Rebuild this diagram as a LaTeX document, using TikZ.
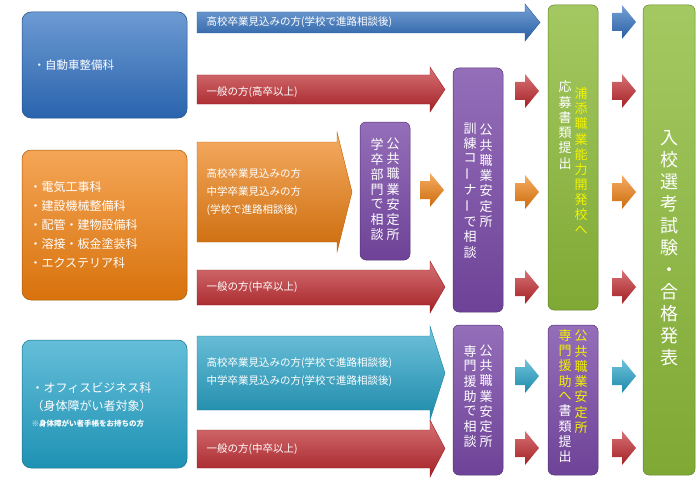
\documentclass[tikz,border=0pt]{standalone}
\usepackage{fontspec}
\setmainfont{Noto Sans CJK JP}
\definecolor{cblue}{HTML}{2E6FC0}
\definecolor{cred}{HTML}{C0262B}
\definecolor{corange}{HTML}{F07F0E}
\definecolor{ccyan}{HTML}{22A2C8}
\definecolor{cpurple}{HTML}{7A4AA8}
\definecolor{cgreen}{HTML}{8DBB3A}
\definecolor{cyel}{HTML}{F2F200}
\newcommand{\vc}[1]{\begin{tabular}{@{}c@{}}#1\end{tabular}}
\newcommand{\vbar}{\rotatebox{90}{ー}}
\newcommand{\arr}[8]{% x1 x2 bodytop bodybot headtop headbot color name
 \path[top color=#7!65!white,bottom color=#7!85!black,draw=#7!80!black,line width=0.4pt]
  (#1,#3)--(#2-15,#3)--(#2-15,#5)--(#2,#5/2+#6/2)--(#2-15,#6)--(#2-15,#4)--(#1,#4)--cycle;
 \coordinate (#8) at (#1,#3/2+#4/2);}
\newcommand{\sarr}[4]{% x y color name
 \path[top color=#3!65!white,bottom color=#3!85!black]
  (#1,#2-9)--(#1+10,#2-9)--(#1+10,#2-17)--(#1+24,#2)--(#1+10,#2+17)--(#1+10,#2+9)--(#1,#2+9)--cycle;
 \coordinate (#4) at (#1,#2);}
\tikzset{
 box/.style={rounded corners=9pt,draw=#1!70!black,top color=#1!70!white,bottom color=#1!90!black,line width=0.5pt},
 vbox/.style={rounded corners=6pt,draw=#1!70!black,top color=#1!80!white,bottom color=#1!90!black,line width=0.5pt},
 lbl/.style={text=white,font=\fontsize{10.5}{13}\selectfont,anchor=west,align=left},
 vt/.style={text=white,font=\fontsize{13}{14.5}\selectfont,inner sep=0pt},
}
\begin{document}
\begin{tikzpicture}[x=1pt,y=-1pt]
\useasboundingbox (0,0) rectangle (700,484);
% left boxes
\path[box=cblue] (22,12) rectangle (187,118);
\node[lbl,font=\fontsize{11.5}{14}\selectfont] (b1) at (30,65) {・自動車整備科};
\path[box=corange] (22,150) rectangle (187,300);
\node[lbl,font=\fontsize{12}{19}\selectfont] (b2) at (26,225) {・電気工事科\\・建設機械整備科\\・配管・建物設備科\\・溶接・板金塗装科\\・エクステリア科};
\path[box=ccyan] (22,340) rectangle (187,468);
\node[lbl,font=\fontsize{12}{18}\selectfont] (b3) at (28,397) {・オフィスビジネス科\\（身体障がい者対象）};
\node[lbl,font=\fontsize{7.5}{9}\selectfont\bfseries] (b3n) at (28,424) {※身体障がい者手帳をお持ちの方};
% big arrows
\arr{197}{540}{12}{33}{4}{41}{cblue}{a1}
\node[lbl] at (203,22) {高校卒業見込みの方(学校で進路相談後)};
\arr{197}{445}{75}{104}{67}{112}{cred}{a2}
\node[lbl] at (203,92) {一般の方(高卒以上)};
\arr{197}{352}{142}{242}{132}{252}{corange}{a3}
\node[lbl,font=\fontsize{10.5}{18}\selectfont] at (203,192) {高校卒業見込みの方\\中学卒業見込みの方\\(学校で進路相談後)};
\arr{197}{445}{270}{305}{261}{313}{cred}{a4}
\node[lbl] at (203,287) {一般の方(中卒以上)};
\arr{197}{445}{336}{410}{326}{420}{ccyan}{a5}
\node[lbl,font=\fontsize{10.5}{18}\selectfont] at (203,372) {高校卒業見込みの方(学校で進路相談後)\\中学卒業見込みの方(学校で進路相談後)};
\arr{197}{445}{430}{468}{420}{477}{cred}{a6}
\node[lbl] at (203,449) {一般の方(中卒以上)};
% small arrows
\sarr{420}{190}{corange}{s0}
\sarr{515}{91}{cred}{s1}\sarr{612}{91}{cred}{s2}
\sarr{515}{192}{corange}{s3}\sarr{612}{192}{corange}{s4}
\sarr{515}{287}{cred}{s5}\sarr{612}{287}{cred}{s6}
\sarr{515}{376}{ccyan}{s7}\sarr{612}{376}{ccyan}{s8}
\sarr{515}{448}{cred}{s9}\sarr{612}{448}{cred}{s10}
\sarr{612}{22}{cblue}{s11}
% purple / green boxes
\path[vbox=cpurple] (360,122) rectangle (410,260);
\node[vt] (p1) at (385,191) {\vc{学\\卒\\部\\門\\で\\相\\談}\hspace{3pt}\vc{公\\共\\職\\業\\安\\定\\所}};
\path[vbox=cpurple] (453,68) rectangle (503,312);
\node[vt] (p2) at (478,192) {\vc{訓\\練\\コ\\\vbar\\ナ\\\vbar\\で\\相\\談}\hspace{3pt}\vc{公\\共\\職\\業\\安\\定\\所\\\\\\}};
\path[vbox=cgreen] (548,5) rectangle (598,310);
\node[vt] (g1) at (573,163) {\vc{応\\募\\書\\類\\提\\出\\\\\\\\\\\\}\hspace{3pt}\textcolor{cyel}{\vc{浦\\添\\職\\業\\能\\力\\開\\発\\校\\へ}}};
\path[vbox=cgreen] (643,5) rectangle (695,475);
\node[vt,font=\fontsize{18}{22}\selectfont] (g2) at (669,250) {\vc{入\\校\\選\\考\\試\\験\\・\\合\\格\\発\\表}};
\path[vbox=cpurple] (453,325) rectangle (503,475);
\node[vt] (p3) at (478,398) {\vc{専\\門\\援\\助\\で\\相\\談}\hspace{3pt}\vc{公\\共\\職\\業\\安\\定\\所}};
\path[vbox=cpurple] (548,325) rectangle (598,475);
\node[vt] (p4) at (573,398) {\vc{\textcolor{cyel}{専}\\\textcolor{cyel}{門}\\\textcolor{cyel}{援}\\\textcolor{cyel}{助}\\\textcolor{cyel}{へ}\\書\\類\\提\\出}\hspace{3pt}\textcolor{cyel}{\vc{公\\共\\職\\業\\安\\定\\所\\\\\\}}};
\end{tikzpicture}
\end{document}
